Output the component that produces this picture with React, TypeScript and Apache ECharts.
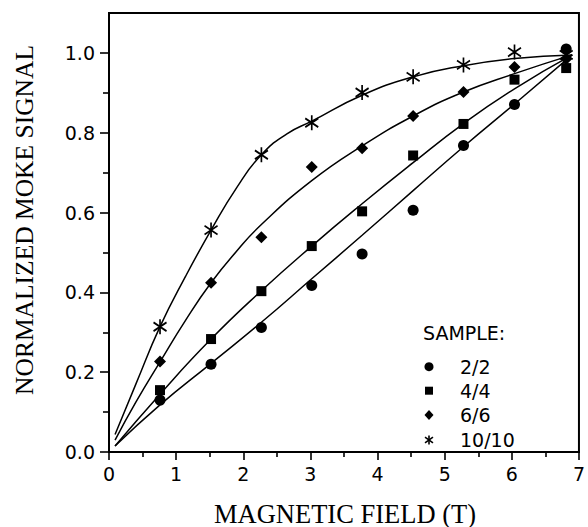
import React, { useEffect, useRef } from "react";
import * as echarts from "echarts";

// ---- data ----
const fieldX = [0.76, 1.52, 2.27, 3.02, 3.77, 4.53, 5.28, 6.04, 6.81];
const sample22 = [0.13, 0.22, 0.312, 0.417, 0.496, 0.606, 0.768, 0.871, 1.01];
const sample44 = [0.155, 0.283, 0.403, 0.516, 0.603, 0.743, 0.822, 0.933, 0.962];
const sample66 = [0.227, 0.424, 0.538, 0.714, 0.761, 0.842, 0.902, 0.965, 0.985];
const sample1010 = [0.314, 0.556, 0.745, 0.825, 0.901, 0.94, 0.97, 1.002, 0.995];

// fitted curves
const fit22X = [0.09, 0.76, 1.52, 2.27, 3.02, 3.77, 4.53, 5.28, 6.04, 6.9];
const fit22Y = [0.015, 0.118, 0.222, 0.325, 0.434, 0.543, 0.655, 0.765, 0.872, 0.995];
const fit44X = [0.09, 0.76, 1.52, 2.27, 3.02, 3.77, 4.53, 5.28, 6.04, 6.9];
const fit44Y = [0.015, 0.145, 0.283, 0.404, 0.516, 0.622, 0.725, 0.823, 0.91, 0.995];
const fit66X = [0.09, 0.4, 0.76, 1.14, 1.52, 1.9, 2.27, 3.02, 3.77, 4.53, 5.28, 6.04, 6.9];
const fit66Y = [0.03, 0.125, 0.226, 0.33, 0.424, 0.503, 0.57, 0.68, 0.767, 0.842, 0.902, 0.948, 0.995];
const fit1010X = [0.09, 0.4, 0.76, 1.14, 1.52, 1.9, 2.27, 2.65, 3.02, 3.77, 4.53, 5.28, 6.04, 6.9];
const fit1010Y = [0.044, 0.17, 0.314, 0.44, 0.556, 0.662, 0.745, 0.797, 0.829, 0.894, 0.94, 0.968, 0.986, 0.995];

const sampleNames = ["2/2", "4/4", "6/6", "10/10"];
const yMajorTicks = [0, 0.2, 0.4, 0.6, 0.8, 1.0];
const yMinorTicks = [0.1, 0.3, 0.5, 0.7, 0.9];
const xTitle = "MAGNETIC FIELD (T)";
const yTitle = "NORMALIZED MOKE SIGNAL";
const legendTitle = "SAMPLE:";

const pairs = (xs: number[], ys: number[]) => xs.map((x, i) => [x, ys[i]]);

const SANS = "'DejaVu Sans', sans-serif";
const SERIF = "'Liberation Serif', 'Times New Roman', serif";
const STAR = "path://M6 0L6 12M1 2.5L11 9.5M1 9.5L11 2.5";

function fitSeries(xs: number[], ys: number[]) {
  return {
    type: "line",
    data: pairs(xs, ys),
    showSymbol: false,
    symbol: "none",
    smooth: 0.5,
    silent: true,
    z: 2,
    lineStyle: { color: "#000", width: 1.5, opacity: 1 },
  };
}

function scatterSeries(name: string, ys: number[], symbol: string, size: any, extra: any = {}) {
  return {
    type: "scatter",
    name,
    data: pairs(fieldX, ys),
    symbol,
    symbolSize: size,
    z: 3,
    itemStyle: { color: "#000", opacity: 1, ...extra },
  };
}

export default function App() {
  const ref = useRef<HTMLDivElement>(null);
  useEffect(() => {
    const chart = echarts.init(ref.current!, null, { renderer: "svg" });
    const axisLine = { show: true, lineStyle: { color: "#000", width: 2 } };
    const lx = 429;
    const ly = [366.7, 390.7, 415, 440];
    const textStyle = (size: number, family: string, align: string) => ({
      fill: "#000",
      fontSize: size,
      fontFamily: family,
      align,
      verticalAlign: "middle",
      textAlign: align,
      textVerticalAlign: "middle",
    });
    chart.setOption({
      animation: false,
      backgroundColor: "#fff",
      grid: {
        left: 109,
        top: 13,
        width: 473,
        height: 439,
        show: true,
        borderColor: "#000",
        borderWidth: 2,
        backgroundColor: "transparent",
      },
      xAxis: {
        type: "value",
        min: 0,
        max: 7,
        interval: 1,
        axisLine,
        axisTick: { show: true, inside: false, length: 8, lineStyle: { color: "#000", width: 1.6 } },
        minorTick: { show: true, splitNumber: 2, length: 5, lineStyle: { color: "#000", width: 1.6 } },
        splitLine: { show: false },
        minorSplitLine: { show: false },
        axisLabel: { color: "#000", fontSize: 19, fontFamily: SANS, margin: 12 },
      },
      yAxis: [
        {
          type: "value",
          min: 0,
          max: 1.1,
          position: "left",
          axisLine,
          axisTick: {
            show: true,
            inside: false,
            length: 9,
            customValues: yMajorTicks,
            lineStyle: { color: "#000", width: 1.6 },
          },
          axisLabel: {
            color: "#000",
            fontSize: 19,
            fontFamily: SANS,
            margin: 14,
            customValues: yMajorTicks,
            formatter: (v: number) => v.toFixed(1),
          },
          splitLine: { show: false },
        },
        {
          type: "value",
          min: 0,
          max: 1.1,
          position: "left",
          offset: 0,
          axisLine: { show: false },
          axisTick: {
            show: true,
            inside: false,
            length: 6,
            customValues: yMinorTicks,
            lineStyle: { color: "#000", width: 1.6 },
          },
          axisLabel: { show: false },
          splitLine: { show: false },
        },
      ],
      graphic: [
        {
          type: "text",
          x: 24.5,
          y: 220,
          rotation: Math.PI / 2,
          style: { text: yTitle, ...textStyle(25.5, SERIF, "center") },
        },
        {
          type: "text",
          x: 345,
          y: 513.5,
          style: { text: xTitle, ...textStyle(26.5, SERIF, "center") },
        },
        {
          type: "text",
          x: 423,
          y: 332.5,
          style: { text: legendTitle, ...textStyle(19, SANS, "left") },
        },
        ...sampleNames.map((n, i) => ({
          type: "text",
          x: 460,
          y: ly[i],
          style: { text: n, ...textStyle(19, SANS, "left") },
        })),
        { type: "circle", shape: { cx: lx, cy: ly[0], r: 4.5 }, style: { fill: "#000" } },
        { type: "rect", shape: { x: lx - 4, y: ly[1] - 4, width: 8, height: 8 }, style: { fill: "#000" } },
        {
          type: "polygon",
          shape: { points: [[lx, ly[2] - 5], [lx + 4.5, ly[2]], [lx, ly[2] + 5], [lx - 4.5, ly[2]]] },
          style: { fill: "#000" },
        },
        { type: "line", shape: { x1: lx, y1: ly[3] - 4.5, x2: lx, y2: ly[3] + 4.5 }, style: { stroke: "#000", lineWidth: 1.6 } },
        { type: "line", shape: { x1: lx - 4, y1: ly[3] - 2.8, x2: lx + 4, y2: ly[3] + 2.8 }, style: { stroke: "#000", lineWidth: 1.6 } },
        { type: "line", shape: { x1: lx - 4, y1: ly[3] + 2.8, x2: lx + 4, y2: ly[3] - 2.8 }, style: { stroke: "#000", lineWidth: 1.6 } },
      ],
      series: [
        fitSeries(fit22X, fit22Y),
        fitSeries(fit44X, fit44Y),
        fitSeries(fit66X, fit66Y),
        fitSeries(fit1010X, fit1010Y),
        scatterSeries(sampleNames[0], sample22, "circle", 11),
        scatterSeries(sampleNames[1], sample44, "rect", 10),
        scatterSeries(sampleNames[2], sample66, "diamond", 12),
        scatterSeries(sampleNames[3], sample1010, STAR, [13, 15], {
          color: "transparent",
          borderColor: "#000",
          borderWidth: 1.8,
        }),
      ],
    });
    return () => chart.dispose();
  }, []);
  return (
    <div
      ref={ref}
      style={{ position: "fixed", left: 0, top: 0, width: 588, height: 527, background: "#fff" }}
    />
  );
}
